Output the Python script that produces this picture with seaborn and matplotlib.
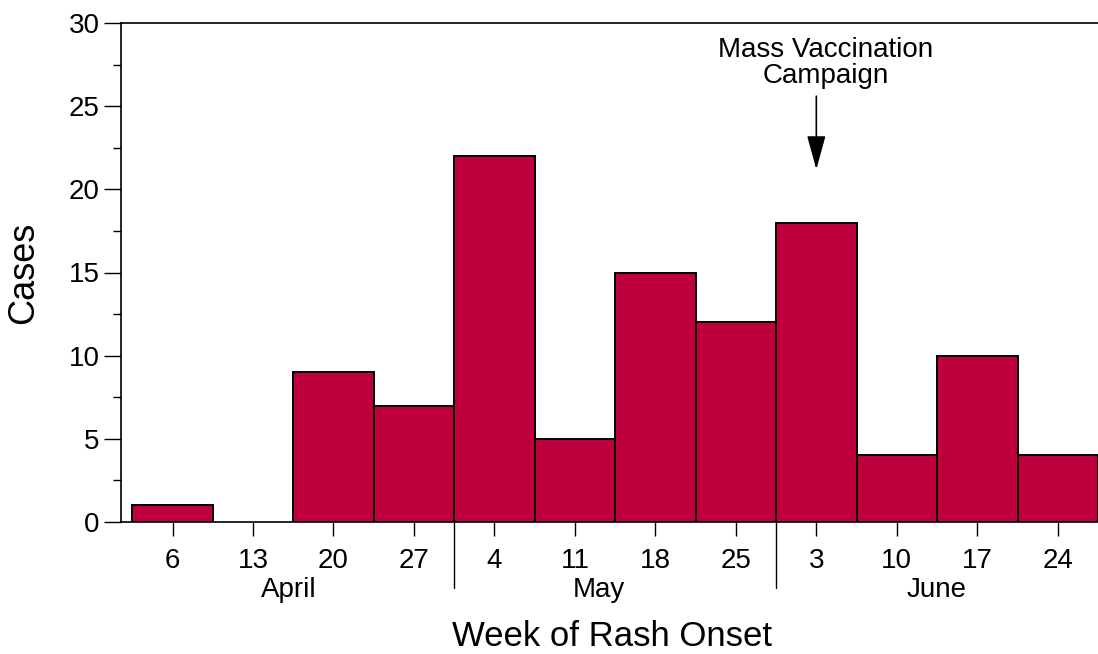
import matplotlib
matplotlib.use("Agg")
import matplotlib.pyplot as plt
import seaborn as sns
import pandas as pd
from matplotlib.ticker import MultipleLocator

# weekly counts
weeks = ["6", "13", "20", "27", "4", "11", "18", "25", "3", "10", "17", "24"]
cases = [1, 0, 9, 7, 22, 5, 15, 12, 18, 4, 10, 4]
months = ["April", "May", "June"]
month_pos = [1.45, 5.3, 9.5]
month_breaks = [3.5, 7.5]

df = pd.DataFrame({"week": weeks, "cases": cases})

sns.set_style("ticks")
plt.rcParams["font.family"] = ["Liberation Sans", "DejaVu Sans"]
plt.rcParams["text.color"] = "black"
plt.rcParams["axes.labelcolor"] = "black"
plt.rcParams["xtick.color"] = "black"
plt.rcParams["ytick.color"] = "black"

fig = plt.figure(figsize=(10.98, 6.54), dpi=100)
ax = fig.add_axes([121 / 1098, 132 / 654, 1 - 121 / 1098, 499 / 654])

sns.barplot(data=df, x="week", y="cases", order=weeks, color="#C0003C",
            saturation=1, width=1.0, edgecolor="black", linewidth=1.4, ax=ax)

# weeks with no cases get no outline
for bar, c in zip(ax.patches, cases):
    if c == 0:
        bar.set_linewidth(0)

ax.set_xlim(-0.64, 11.5)
ax.set_ylim(0, 30)
ax.yaxis.set_major_locator(MultipleLocator(5))
ax.yaxis.set_minor_locator(MultipleLocator(2.5))
ax.tick_params(axis="y", which="major", length=12, width=1, labelsize=20, direction="out")
ax.tick_params(axis="y", which="minor", length=6, width=1, direction="out")
ax.tick_params(axis="x", length=10, width=1, labelsize=20, pad=9, direction="out")

for s in ["left", "bottom", "top"]:
    ax.spines[s].set_linewidth(1.2)
    ax.spines[s].set_color("black")
ax.spines["right"].set_visible(False)

ax.set_ylabel("Cases", fontsize=26, labelpad=20)
ax.set_xlabel("Week of Rash Onset", fontsize=25)
ax.xaxis.set_label_coords(0.503, -0.196)

# month separators and labels below the week ticks
tr = ax.get_xaxis_transform()
for b in month_breaks:
    ax.plot([b, b], [0, -0.132], color="black", lw=1, transform=tr, clip_on=False)
for m, p in zip(months, month_pos):
    ax.text(p, -0.136, m, transform=tr, ha="center", va="center", fontsize=20)

ax.annotate("", xy=(8, 21.2), xytext=(8, 25.6),
            arrowprops=dict(arrowstyle="-|>,head_length=2.1,head_width=0.58",
                            color="black", lw=1.2, shrinkA=0, shrinkB=0))
ax.text(8.12, 27.6, "Mass Vaccination\nCampaign", ha="center", va="center",
        fontsize=20, linespacing=1.0)

fig.savefig("out.png", dpi=100)
